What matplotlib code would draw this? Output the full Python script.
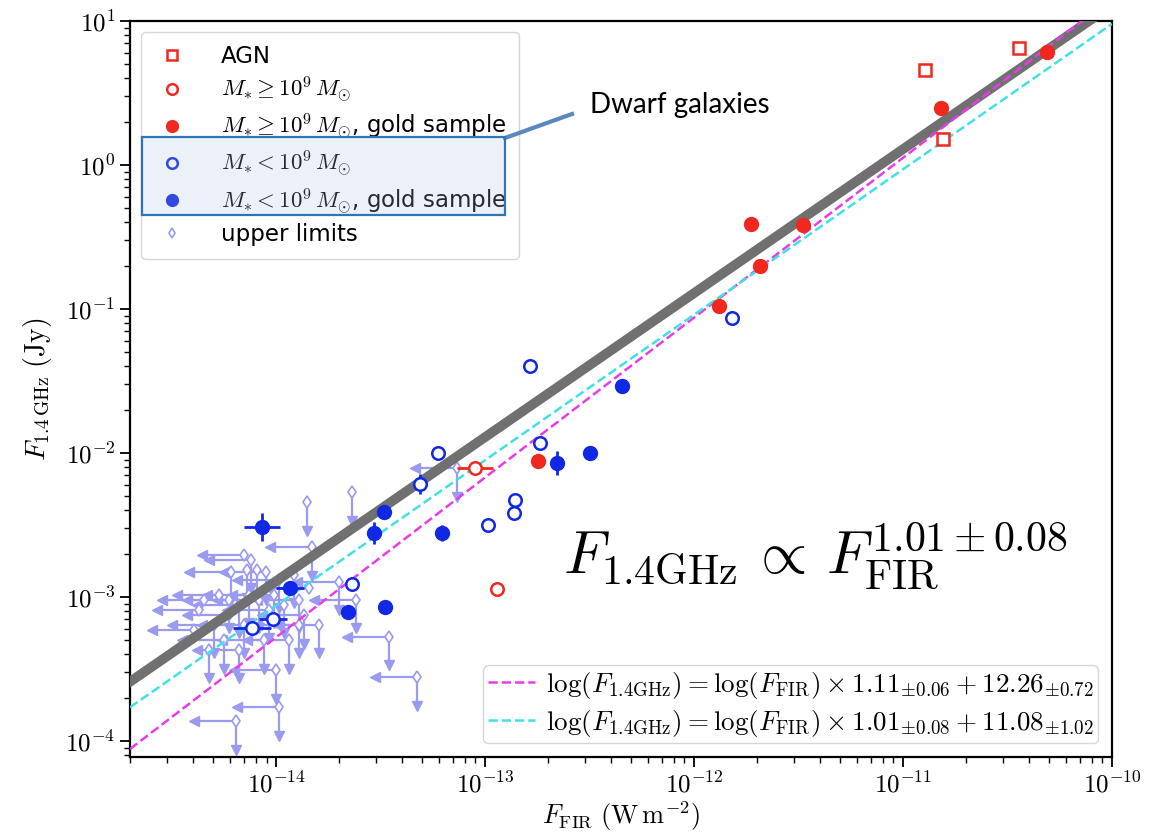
import matplotlib
matplotlib.use('Agg')
import matplotlib.pyplot as plt
import numpy as np
from matplotlib.lines import Line2D
from matplotlib.patches import Rectangle
from matplotlib.ticker import FuncFormatter, NullFormatter, LogLocator, FixedLocator

plt.rcParams['mathtext.fontset'] = 'cm'
plt.rcParams['font.family'] = ['DejaVu Sans']

red = '#f0281e'
blue = '#1028e6'
ulcol = '#9a9af0'

# AGN
agn_x = [1.27e-11, 3.59e-11, 1.55e-11]
agn_y = [4.56, 6.49, 1.51]

# M* >= 1e9, open
hi_x = [8.95e-14, 1.14e-13]
hi_y = [7.83e-3, 1.14e-3]
hi_xerr_dex = [0.086, 0.0]

# M* >= 1e9, gold sample
hig_x = [4.89e-11, 1.52e-11, 1.88e-12, 3.33e-12, 2.07e-12, 1.32e-12, 1.80e-13]
hig_y = [6.08, 2.48, 0.392, 0.385, 0.20, 0.105, 8.77e-3]

# M* < 1e9, open
lo_x = [1.52e-12, 1.64e-13, 5.96e-14, 1.83e-13, 4.89e-14, 1.39e-13, 1.38e-13,
        1.03e-13, 2.31e-14, 9.67e-15, 7.68e-15]
lo_y = [0.0869, 0.0402, 9.98e-3, 0.0117, 6.07e-3, 4.69e-3, 3.81e-3,
        3.14e-3, 1.24e-3, 7.08e-4, 6.12e-4]
lo_xerr_dex = [0, 0, 0, 0, 0, 0, 0, 0, 0, 0.067, 0.09]
lo_yerr_dex = [0, 0, 0, 0, 0.07, 0, 0, 0, 0, 0, 0]

# M* < 1e9, gold sample
log_x = [4.53e-13, 3.18e-13, 2.21e-13, 3.29e-14, 2.94e-14, 6.22e-14, 8.57e-15,
         1.17e-14, 2.21e-14, 3.33e-14]
log_y = [0.0292, 9.98e-3, 8.49e-3, 3.87e-3, 2.80e-3, 2.80e-3, 3.04e-3,
         1.16e-3, 7.9e-4, 8.57e-4]
log_xerr_dex = [0, 0, 0, 0, 0, 0, 0.086, 0.067, 0, 0]
log_yerr_dex = [0, 0, 0.084, 0, 0.077, 0.056, 0.097, 0, 0, 0]

# upper limits: x, y, left arrow, down arrow
ul_x = [2.31e-14, 1.41e-14, 1.49e-14, 7.03e-15, 7.59e-15, 6.09e-15, 7.26e-15,
        8.11e-15, 8.96e-15, 2.0e-14, 1.44e-14, 2.42e-14, 3.48e-14, 4.73e-14,
        1.03e-14, 6.44e-15, 1.0e-14, 5.33e-15, 4.53e-15, 5.96e-15, 6.65e-15,
        8.3e-15, 9.78e-15, 1.09e-14, 1.29e-14, 5.96e-15, 5.05e-15, 7.03e-15,
        8.77e-15, 1.15e-14, 1.29e-14, 5.64e-15, 4.78e-15, 6.65e-15, 1.61e-14,
        1.36e-14, 9.27e-15, 4.28e-15, 4.05e-15, 7.43e-15, 1.03e-14, 1.22e-14,
        7.35e-14]
ul_y = [5.33e-3, 4.54e-3, 2.21e-3, 1.97e-3, 1.82e-3, 1.50e-3, 1.55e-3,
        1.53e-3, 1.50e-3, 1.28e-3, 1.16e-3, 9.6e-4, 5.3e-4, 2.79e-4,
        1.73e-4, 1.38e-4, 3.12e-4, 1.04e-3, 9.6e-4, 9.6e-4, 8.85e-4,
        9.6e-4, 1.04e-3, 8.85e-4, 9.6e-4, 7.53e-4, 6.43e-4, 6.43e-4,
        5.05e-4, 5.05e-4, 6.43e-4, 5.05e-4, 4.31e-4, 4.31e-4, 6.43e-4,
        7.53e-4, 8.17e-4, 8.17e-4, 5.93e-4, 1.04e-3, 1.32e-3, 1.43e-3,
        7.83e-3]
ul_left = [0, 0, 1, 1, 1, 1, 0, 0, 1, 1, 1, 1, 1, 1, 1, 1, 1, 1, 1, 1, 1,
           1, 1, 0, 1, 1, 1, 1, 1, 1, 1, 1, 0, 1, 1, 1, 1, 1, 1, 1, 1, 0, 1]
ul_down = [1, 1, 1, 0, 1, 1, 1, 1, 1, 1, 0, 1, 1, 1, 1, 1, 1, 0, 0, 1, 1,
           1, 1, 1, 1, 0, 1, 1, 1, 1, 1, 1, 1, 1, 1, 1, 1, 0, 0, 1, 1, 1, 1]
arrow_dex = 0.2

# fits
fit_slope = [1.11, 1.01]
fit_icpt = [12.26, 11.08]
fit_cols = ['#e83ce8', '#40e0e6']
fit_labels = [r'$\log(F_{1.4\mathrm{GHz}}) = \log(F_{\mathrm{FIR}}) \times 1.11_{\pm0.06} + 12.26_{\pm0.72}$',
              r'$\log(F_{1.4\mathrm{GHz}}) = \log(F_{\mathrm{FIR}}) \times 1.01_{\pm0.08} + 11.08_{\pm1.02}$']
gray_slope, gray_icpt = 1.0, 11.11

x_ticks = [1e-14, 1e-13, 1e-12, 1e-11, 1e-10]
y_ticks = [1e-4, 1e-3, 1e-2, 1e-1, 1e0, 1e1]


def dex_err(v, d):
    v = np.asarray(v)
    d = np.asarray(d)
    return np.array([v - v * 10 ** (-d), v * 10 ** d - v])


fig = plt.figure(figsize=(11.49, 8.36), dpi=100)
ax = fig.add_axes([130 / 1149, 1 - 757 / 836, 982 / 1149, 736 / 836])
ax.set_xscale('log')
ax.set_yscale('log')
ax.set_xlim(2e-15, 1e-10)
ax.set_ylim(7.74e-5, 10)

# upper limits
for x, y, l, d in zip(ul_x, ul_y, ul_left, ul_down):
    if l:
        xe = x * 10 ** -arrow_dex
        ax.plot([x, xe], [y, y], color=ulcol, lw=1.6, zorder=1)
        ax.plot(xe, y, marker='<', color=ulcol, ms=7, zorder=1)
    if d:
        ye = y * 10 ** -arrow_dex
        ax.plot([x, x], [y, ye], color=ulcol, lw=1.6, zorder=1)
        ax.plot(x, ye, marker='v', color=ulcol, ms=7, zorder=1)
ax.plot(ul_x, ul_y, 'd', ms=6, mfc='white', mec=ulcol, mew=1.2, ls='none',
        zorder=2)

xs = np.logspace(np.log10(2e-15), -10, 50)
ax.plot(xs, 10 ** (gray_slope * np.log10(xs) + gray_icpt), color='#707070',
        lw=7, zorder=3)
fit_handles = []
for s, b, c, lab in zip(fit_slope, fit_icpt, fit_cols, fit_labels):
    h, = ax.plot(xs, 10 ** (s * np.log10(xs) + b), color=c, lw=1.8,
                 ls='--', zorder=3, label=lab)
    fit_handles.append(h)

# points
ax.errorbar(lo_x, lo_y, xerr=dex_err(lo_x, lo_xerr_dex),
            yerr=dex_err(lo_y, lo_yerr_dex), fmt='none', ecolor=blue,
            elinewidth=2, zorder=4)
ax.errorbar(log_x, log_y, xerr=dex_err(log_x, log_xerr_dex),
            yerr=dex_err(log_y, log_yerr_dex), fmt='none', ecolor=blue,
            elinewidth=2, zorder=4)
ax.errorbar(hi_x, hi_y, xerr=dex_err(hi_x, hi_xerr_dex), fmt='none',
            ecolor=red, elinewidth=2, zorder=4)

h_agn, = ax.plot(agn_x, agn_y, 's', ms=9, mfc='white', mec=red, mew=1.8,
                 ls='none', zorder=5, label='AGN')
h_hi, = ax.plot(hi_x, hi_y, 'o', ms=9, mfc='white', mec=red, mew=1.8,
                ls='none', zorder=5, label=r'$M_{*} \geq 10^{9}\,M_{\odot}$')
h_hig, = ax.plot(hig_x, hig_y, 'o', ms=10, color=red, ls='none', zorder=5,
                 label=r'$M_{*} \geq 10^{9}\,M_{\odot}$, gold sample')
h_lo, = ax.plot(lo_x, lo_y, 'o', ms=9, mfc='white', mec=blue, mew=1.8,
                ls='none', zorder=5, label=r'$M_{*} < 10^{9}\,M_{\odot}$')
h_log, = ax.plot(log_x, log_y, 'o', ms=10, color=blue, ls='none', zorder=5,
                 label=r'$M_{*} < 10^{9}\,M_{\odot}$, gold sample')
h_ul = Line2D([], [], marker='d', ms=6, mfc='white', mec=ulcol, mew=1.2,
              ls='none', label='upper limits')

leg1 = ax.legend(handles=[h_agn, h_hi, h_hig, h_lo, h_log, h_ul],
                 loc='upper left', fontsize=16.5, markerscale=0.85,
                 labelspacing=0.3, handletextpad=1.3, handlelength=1.6,
                 borderpad=0.55)
ax.add_artist(leg1)
ax.legend(handles=fit_handles, loc='lower right', fontsize=19.5,
          handlelength=1.75, handletextpad=0.4, labelspacing=0.26,
          borderpad=0.17)

ax.text(0.441, 0.274, r'$F_{1.4\mathrm{GHz}}\,\propto\,F_{\mathrm{FIR}}^{1.01\pm0.08}$',
        transform=ax.transAxes, fontsize=43, va='center', ha='left')

ax.set_xlabel(r'$F_{\mathrm{FIR}}\ (\mathrm{W\,m^{-2}})$', fontsize=19,
              labelpad=1)
ax.set_ylabel(r'$F_{1.4\,\mathrm{GHz}}\ (\mathrm{Jy})$', fontsize=20,
              labelpad=8)
fmt = FuncFormatter(lambda v, pos: r'$10^{%d}$' % round(np.log10(v)))
for axis, tks in ((ax.xaxis, x_ticks), (ax.yaxis, y_ticks)):
    axis.set_major_locator(FixedLocator(tks))
    axis.set_major_formatter(fmt)
    axis.set_minor_locator(LogLocator(base=10, subs=np.arange(2, 10), numticks=20))
    axis.set_minor_formatter(NullFormatter())
ax.tick_params(labelsize=18, width=1.3, length=7)
ax.tick_params(which='minor', width=1, length=4)
for sp in ax.spines.values():
    sp.set_linewidth(1.6)

# overlay: dwarf galaxies box and callout
fig.patches.append(Rectangle((142 / 1149, 1 - 215 / 836), 363 / 1149, 78 / 836,
                             transform=fig.transFigure, facecolor='#a9c0dc',
                             alpha=0.22, edgecolor='none', zorder=10))
fig.patches.append(Rectangle((142 / 1149, 1 - 215 / 836), 363 / 1149, 78 / 836,
                             transform=fig.transFigure, facecolor='none',
                             edgecolor='#2e75b6', lw=1.6, zorder=11))
fig.add_artist(Line2D([505 / 1149, 572 / 1149], [1 - 138 / 836, 1 - 114 / 836],
                      transform=fig.transFigure, color='#5b87c0', lw=3,
                      zorder=11))
fig.text(590 / 1149, 1 - 105 / 836, 'Dwarf galaxies', fontsize=20,
         family='Lato', va='center', ha='left')

fig.savefig('out.png', dpi=100)
